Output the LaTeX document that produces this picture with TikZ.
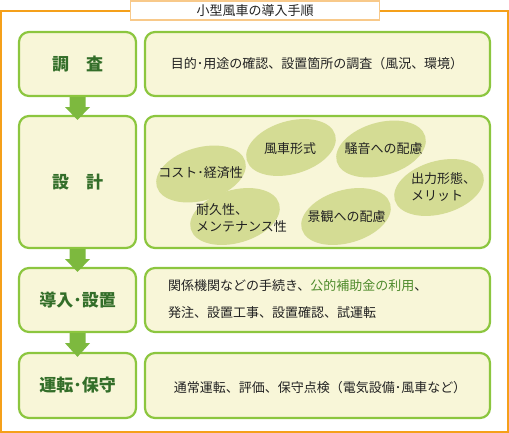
\documentclass[tikz,border=0pt]{standalone}
\usepackage{fontspec}
\setmainfont{Noto Sans CJK JP}
\usetikzlibrary{shapes.geometric,calc}
\definecolor{frameor}{HTML}{F5A01A}
\definecolor{titleor}{HTML}{F8C98A}
\definecolor{boxgreen}{HTML}{8CC63F}
\definecolor{boxfill}{HTML}{F8F6D8}
\definecolor{ellfill}{HTML}{D4DC94}
\definecolor{arrowgreen}{HTML}{7DB93E}
\definecolor{labgreen}{HTML}{336E29}
\definecolor{hlgreen}{HTML}{4E8B2C}
\definecolor{txt}{HTML}{222222}
\tikzset{
  stepbox/.style={draw=boxgreen, fill=boxfill, line width=2.2pt, rounded corners=10pt, inner sep=0pt},
  leftbox/.style={stepbox, minimum width=117pt},
  rightbox/.style={stepbox, minimum width=345pt},
  steplabel/.style={text=labgreen, font=\fontsize{17}{20}\selectfont\bfseries},
  desc/.style={text=txt, font=\fontsize{13}{17}\selectfont, inner sep=0pt},
  blob/.style={ellipse, fill=ellfill, minimum width=92pt, minimum height=53pt, inner sep=0pt, rotate=16},
  flowarrow/.style={fill=arrowgreen}
}
\begin{document}
\begin{tikzpicture}[x=1pt,y=-1pt]
\useasboundingbox (0,0) rectangle (509,433);
% outer frame
\draw[frameor, line width=1.6pt] (0.8,11) rectangle (508.2,432.2);
\node[draw=titleor, fill=white, line width=1.4pt, minimum width=249pt, minimum height=19pt, inner sep=0pt,
      font=\fontsize{13}{15}\selectfont, text=txt] (title) at (255,10.5) {小型風車の導入手順};
% left boxes
\node[leftbox, minimum height=64pt] (l1) at (77.5,64) {};
\node[leftbox, minimum height=132pt] (l2) at (77.5,182) {};
\node[leftbox, minimum height=64pt] (l3) at (77.5,300) {};
\node[leftbox, minimum height=65pt] (l4) at (77.5,385.5) {};
% right boxes
\node[rightbox, minimum height=64pt] (r1) at (317.5,64) {};
\node[rightbox, minimum height=132pt] (r2) at (317.5,182) {};
\node[rightbox, minimum height=64pt] (r3) at (317.5,300) {};
\node[rightbox, minimum height=65pt] (r4) at (317.5,385.5) {};
% labels
\node[steplabel] (s1) at (l1.center) {調　査};
\node[steplabel] (s2) at (l2.center) {設　計};
\node[steplabel] (s3) at (l3.center) {導入･設置};
\node[steplabel] (s4) at (l4.center) {運転･保守};
% arrows
\foreach \a/\b in {l1/l2,l2/l3,l3/l4}{
  \fill[flowarrow] ($(\a.south)+(-8,0)$) -- ($(\a.south)+(8,0)$) -- ($(\a.south)+(8,10)$)
    -- ($(\a.south)+(12.5,10)$) -- ($(\b.north)+(0,5)$) -- ($(\a.south)+(-12.5,10)$)
    -- ($(\a.south)+(-8,10)$) -- cycle;
}
% row 1 text
\node[desc] (d1) at (317,64) {目的･用途の確認、設置箇所の調査（風況、環境）};
% ellipses
\node[blob] (e1) at (201,174) {};
\node[blob] (e2) at (291,147.5) {};
\node[blob] (e3) at (381,149) {};
\node[blob] (e4) at (439,187.5) {};
\node[blob] (e5) at (235,216.5) {};
\node[blob] (e6) at (346,216.5) {};
\node[desc] (t1) at (200.5,173) {コスト･経済性};
\node[desc] (t2) at (290,149) {風車形式};
\node[desc] (t3) at (383.5,149) {騒音への配慮};
\node[desc, align=left, anchor=west] (t4) at (411,187) {出力形態、\\メリット};
\node[desc, align=left, anchor=west] (t5) at (196,218.5) {耐久性、\\メンテナンス性};
\node[desc] (t6) at (346.5,217) {景観への配慮};
% row 3 text
\node[desc, anchor=west] (d3a) at (168,286) {関係機関などの手続き、\textcolor{hlgreen}{公的補助金の利用}、};
\node[desc, anchor=west] (d3b) at (168,313) {発注、設置工事、設置確認、試運転};
% row 4 text
\node[desc] (d4) at (320,388) {通常運転、評価、保守点検（電気設備･風車など）};
\end{tikzpicture}
\end{document}
